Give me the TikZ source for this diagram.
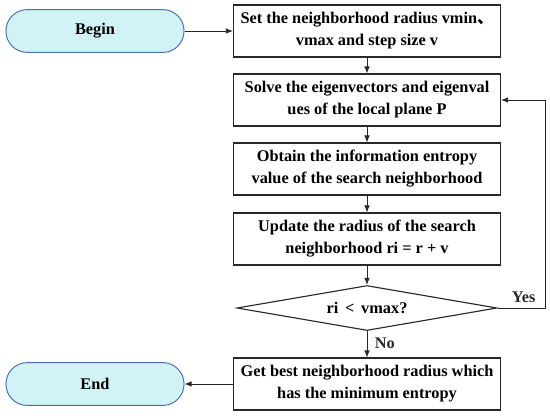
\documentclass[tikz,border=0pt]{standalone}
\usepackage{fontspec}
\setmainfont{Liberation Serif}
\newfontfamily\cjk{Noto Sans CJK SC}
\usepackage{tikz}
\usetikzlibrary{arrows.meta,positioning,shapes.geometric}
\usepackage{xcolor}
\definecolor{termfill}{RGB}{210,243,246}
\definecolor{termline}{RGB}{72,112,188}
\definecolor{boxline}{RGB}{40,40,40}

\begin{document}
\begin{tikzpicture}[x=0.025cm,y=-0.025cm,
    font=\fontsize{11.6}{15.6}\selectfont\bfseries,
    stepbox/.style={draw=boxline, line width=0.8pt, align=center,
      minimum width=6.675cm, minimum height=1.3cm, inner sep=2pt},
    termbox/.style={draw=termline, fill=termfill, line width=0.7pt,
      rounded corners=0.53cm, minimum width=4.45cm, minimum height=1.07cm},
    decbox/.style={draw=boxline, line width=0.8pt, shape=diamond, aspect=5.8,
      inner sep=0pt, minimum width=6.5cm, minimum height=1.125cm},
    flow/.style={-{Latex[length=5pt,width=4pt]}, line width=0.6pt, color=boxline}]
  \useasboundingbox (0,0) rectangle (550,417);

  %% terminals
  \node[termbox] (begin) at (95,31) {Begin};
  \node[termbox] (end) at (95,384) {End};

  %% process steps
  \node[stepbox] (radius) at (367,31)
    {Set the neighborhood radius vmin{\cjk 、}\\vmax and step size v};
  \node[stepbox] (eigen) at (367,100)
    {Solve the eigenvectors and eigenval\\ues of the local plane P};
  \node[stepbox] (entropy) at (367,169)
    {Obtain the information entropy\\value of the search neighborhood};
  \node[stepbox] (update) at (367,239)
    {Update the radius of the search\\neighborhood ri = r + v};
  \node[decbox] (check) at (367,308) {ri \,<\, vmax?};
  \node[stepbox] (best) at (367,384)
    {Get best neighborhood radius which\\has the minimum entropy};

  %% connectors
  \draw[flow] (begin) -- (radius);
  \draw[flow] (radius) -- (eigen);
  \draw[flow] (eigen) -- (entropy);
  \draw[flow] (entropy) -- (update);
  \draw[flow] (update) -- (check);
  \draw[flow] (check) -- node[right=2pt, pos=0.45] {No} (best);
  \draw[flow] (best) -- (end);

  %% loop back
  \coordinate (loop) at (545,308);
  \draw[flow] (check.east) -- node[above, pos=0.55] {Yes} (loop) |- (eigen.east);
\end{tikzpicture}
\end{document}
